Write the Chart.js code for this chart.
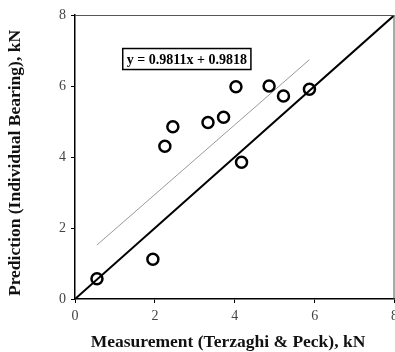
<!DOCTYPE html>
<html>
<head>
<meta charset="utf-8">
<script src="https://cdn.jsdelivr.net/npm/chart.js@4"></script>
<style>
  html, body { margin: 0; padding: 0; background: #fff; overflow: hidden; }
</style>
</head>
<body>
<canvas id="scatterChart" width="403" height="352"></canvas>
<script>
// measured vs predicted, kN
var measured  = [0.55, 1.95, 2.25, 2.45, 3.33, 3.72, 4.17, 4.03, 4.86, 5.22, 5.87];
var predicted = [0.57, 1.12, 4.30, 4.85, 4.97, 5.12, 3.85, 5.98, 6.00, 5.72, 5.91];
var fitSlope = 0.9811;
var fitIntercept = 0.9818;
var fitRange = [0.55, 5.87];
var axisTicks = [0, 2, 4, 6, 8];
var fitLabel = 'y = 0.9811x + 0.9818';
var xTitle = 'Measurement (Terzaghi & Peck), kN';
var yTitle = 'Prediction (Individual Bearing), kN';

var points = measured.map(function (x, i) { return { x: x, y: predicted[i] }; });
var fitLine = fitRange.map(function (x) { return { x: x, y: fitSlope * x + fitIntercept }; });
var oneToOne = [{ x: axisTicks[0], y: axisTicks[0] }, { x: axisTicks[axisTicks.length - 1], y: axisTicks[axisTicks.length - 1] }];

var serif = '"Liberation Serif", "Times New Roman", serif';

// frame on top/right, axis titles and the equation box
var extras = {
    id: 'extras',
    afterDatasetsDraw: function (chart) {
        var ctx = chart.ctx, a = chart.chartArea;
        var sx = chart.scales.x, sy = chart.scales.y;
        ctx.save();
        ctx.strokeStyle = '#555';
        ctx.lineWidth = 1;
        ctx.beginPath();
        ctx.moveTo(a.left, a.top + 0.5);
        ctx.lineTo(a.right - 0.5, a.top + 0.5);
        ctx.lineTo(a.right - 0.5, a.bottom);
        ctx.stroke();

        ctx.font = 'bold 14px ' + serif;
        var w = ctx.measureText(fitLabel).width + 8;
        var h = 21;
        var cx = sx.getPixelForValue(2.8), cy = sy.getPixelForValue(6.76);
        ctx.fillStyle = '#fff';
        ctx.fillRect(cx - w / 2, cy - h / 2, w, h);
        ctx.strokeStyle = '#000';
        ctx.lineWidth = 1.5;
        ctx.strokeRect(cx - w / 2, cy - h / 2, w, h);
        ctx.fillStyle = '#000';
        ctx.textAlign = 'center';
        ctx.textBaseline = 'middle';
        ctx.fillText(fitLabel, cx, cy + 1);

        // axis titles, sitting a little off-centre like the original
        ctx.fillStyle = '#111';
        ctx.font = 'bold 17.5px ' + serif;
        ctx.fillText(xTitle, 228, 342);
        ctx.translate(15, 163);
        ctx.rotate(-Math.PI / 2);
        ctx.fillText(yTitle, 0, 0);
        ctx.restore();
    }
};

var ctxScatter = document.getElementById('scatterChart').getContext('2d');
var scatterChart = new Chart(ctxScatter, {
    type: 'scatter',
    data: {
        datasets: [{
            label: 'Data',
            data: points,
            pointStyle: 'circle',
            pointRadius: 5.5,
            pointBorderWidth: 2.5,
            borderColor: '#000',
            backgroundColor: 'rgba(255,255,255,0)',
            order: 0
        }, {
            label: 'Fit',
            type: 'line',
            data: fitLine,
            borderColor: '#999',
            borderWidth: 1,
            pointRadius: 0,
            fill: false,
            order: 2
        }, {
            label: '1:1',
            type: 'line',
            data: oneToOne,
            borderColor: '#000',
            borderWidth: 2,
            pointRadius: 0,
            fill: false,
            order: 1
        }]
    },
    options: {
        responsive: false,
        animation: false,
        layout: { padding: { top: 15, right: 2, left: 0, bottom: 0 } },
        plugins: {
            legend: { display: false },
            tooltip: { enabled: false }
        },
        scales: {
            x: {
                type: 'linear',
                min: 0,
                max: 8,
                afterBuildTicks: function (s) { s.ticks = axisTicks.map(function (v) { return { value: v }; }); },
                afterFit: function (s) { s.height = 53; },
                border: { color: '#000', width: 1.5 },
                grid: { drawOnChartArea: false, drawTicks: true, tickLength: 4, color: '#000' },
                ticks: { color: '#444', font: { family: serif, size: 14 }, padding: 5, maxRotation: 0 }
            },
            y: {
                type: 'linear',
                min: 0,
                max: 8,
                afterBuildTicks: function (s) { s.ticks = axisTicks.map(function (v) { return { value: v }; }); },
                afterFit: function (s) { s.width = 75; },
                border: { color: '#000', width: 1.5 },
                grid: { drawOnChartArea: false, drawTicks: true, tickLength: 4, color: '#000' },
                ticks: { color: '#444', font: { family: serif, size: 14 }, padding: 5 }
            }
        }
    },
    plugins: [extras]
});
</script>
</body>
</html>
